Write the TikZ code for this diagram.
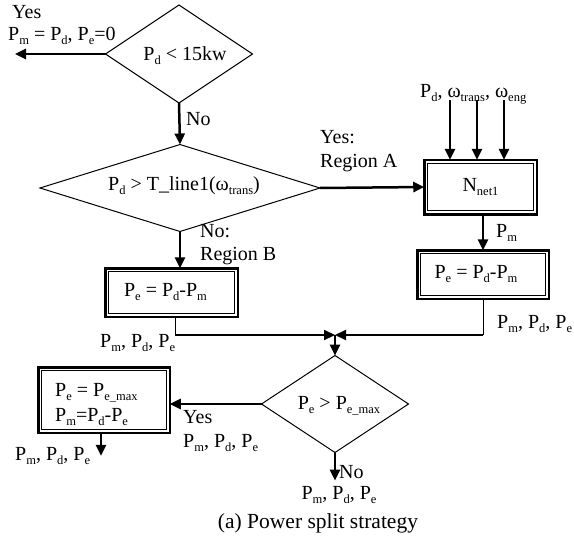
\documentclass[tikz,border=0pt]{standalone}
\usepackage{fontspec}
\setmainfont{Liberation Serif}
\usetikzlibrary{shapes.geometric,arrows.meta}
\newcommand\sbs[1]{\raisebox{-4pt}{\fontsize{12.5}{13}\selectfont #1}}
\begin{document}
\begin{tikzpicture}[x=1pt,y=-1pt,
  every node/.style={font=\fontsize{20}{22}\selectfont},
  dia/.style={draw,diamond,line width=1pt,inner sep=0pt,outer sep=0pt},
  dbox/.style={draw,line width=2.5pt,inner sep=0pt,outer sep=0pt},
  arr/.style={line width=2.5pt,-{Triangle[length=11pt,width=10pt]}},
  thinl/.style={line width=1pt},
  thickl/.style={line width=2.2pt},
  lbl/.style={anchor=base west,inner sep=0pt},
  clbl/.style={anchor=base,inner sep=0pt}]
\useasboundingbox (0,0) rectangle (574,541);

% decision nodes
\node[dia,minimum width=147pt,minimum height=98pt] (d1) at (179,54) {};
\node (t1) at ([shift={(6,2)}]d1) {P\sbs{d} < 15kw};
\node[dia,minimum width=280pt,minimum height=87pt] (d2) at (180,188) {};
\node (t2) at ([shift={(4,-2)}]d2) {P\sbs{d} > T\_line1(ω\sbs{trans})};
\node[dia,minimum width=147pt,minimum height=97pt] (d3) at (335,404) {};
\node (t3) at ([shift={(4,2)}]d3) {P\sbs{e} > P\sbs{e\_max}};

% boxes
\node[dbox,minimum width=112.5pt,minimum height=54.5pt] (n1) at (480.5,187) {N\sbs{net1}};
\node[dbox,minimum width=131.5pt,minimum height=48.5pt] (b2) at (483,274.5) {};
\node (b2t) at ([xshift=-7pt]b2) {P\sbs{e} = P\sbs{d}-P\sbs{m}};
\node[dbox,minimum width=132.5pt,minimum height=48.5pt] (b1) at (171.5,292.5) {};
\node (b1t) at ([xshift=-6pt]b1) {P\sbs{e} = P\sbs{d}-P\sbs{m}};
\node[dbox,minimum width=131.5pt,minimum height=65.5pt] (b3) at (104,400) {};
\node[lbl] (b3a) at (55,396) {P\sbs{e} = P\sbs{e\_max}};
\node[lbl] (b3b) at (55,421) {P\sbs{m}=P\sbs{d}-P\sbs{e}};
\foreach \b in {n1,b1,b2,b3}
  \draw[line width=1pt] ([shift={(3.5,3.5)}]\b.north west) rectangle ([shift={(-3.5,-3.5)}]\b.south east);

% coordinates
\coordinate (yesend) at (15,54);
\coordinate (m) at (335,335);
\coordinate (in1) at (450,100);
\coordinate (in2) at (477,100);
\coordinate (in3) at (504,100);

% connectors
\draw[arr] (d1.west) -- (yesend);
\draw[arr] (d1.south) -- (d2.north);
\draw[arr] (d2.east) -- (n1.west);
\foreach \i in {in1,in2,in3} \draw[arr] (\i) -- (\i |- n1.north);
\draw[arr] (b2.north |- n1.south) -- (b2.north);
\draw[thinl] (b2.south) -- (b2.south |- m);
\draw[thickl,-{Triangle[length=11pt,width=10pt]}] (b2.south |- m) -- (m);
\draw[arr] (d2.south) -- (d2.south |- b1.north);
\draw[thinl] ([xshift=3.5pt]b1.south) -- ([xshift=3.5pt]b1.south |- m);
\draw[thickl,-{Triangle[length=11pt,width=10pt]}] ([xshift=3.5pt]b1.south |- m) -- (m);
\draw[arr] (m) -- (d3.north);
\draw[arr] (d3.west) -- (d3.west -| b3.east);
\draw[arr] ([xshift=-3pt]b3.south) -- ++(0,23);
\draw[arr] (d3.south) -- ++(0,28);

% labels
\node[lbl] (l1) at (12,18) {Yes};
\node[lbl] (l2) at (8,40) {P\sbs{m} = P\sbs{d}, P\sbs{e}=0};
\node[lbl] (l3) at (186,125) {No};
\node[lbl] (l4) at (320,143) {Yes:};
\node[lbl] (l5) at (320,167) {Region A};
\node[lbl] (l6) at (420,97) {P\sbs{d}, ω\sbs{trans}, ω\sbs{eng}};
\node[lbl] (l7) at (496,237) {P\sbs{m}};
\node[lbl] (l8) at (497,328) {P\sbs{m}, P\sbs{d}, P\sbs{e}};
\node[lbl] (l9) at (200,237) {No:};
\node[lbl] (l10) at (200,260) {Region B};
\node[lbl] (l11) at (100,347) {P\sbs{m}, P\sbs{d}, P\sbs{e}};
\node[lbl] (l12) at (183,423) {Yes};
\node[lbl] (l13) at (183,447) {P\sbs{m}, P\sbs{d}, P\sbs{e}};
\node[lbl] (l14) at (15,460) {P\sbs{m}, P\sbs{d}, P\sbs{e}};
\node[lbl] (l15) at (339,478) {No};
\node[clbl] (l16) at (339,499) {P\sbs{m}, P\sbs{d}, P\sbs{e}};
\node[clbl,font=\fontsize{21.5}{24}\selectfont] (cap) at (318,528) {(a) Power split strategy};
\end{tikzpicture}
\end{document}
